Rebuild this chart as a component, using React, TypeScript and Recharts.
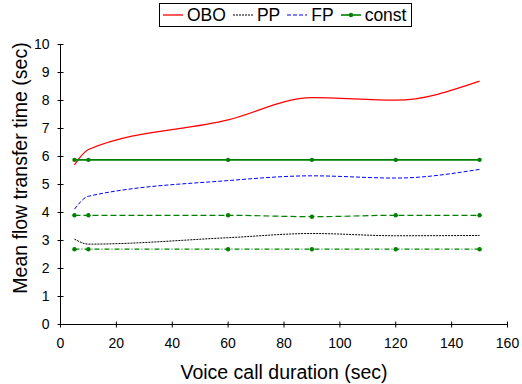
import { LineChart, Line, XAxis, YAxis, Legend } from 'recharts';

// Voice call duration (sec) at which each scheme was measured
const durations = [5, 10, 60, 90, 120, 150];

// Mean flow transfer time (sec) per scheme
const oboTimes = [5.7, 6.25, 7.31, 8.1, 8.01, 8.69];
const ppTimes = [3.05, 2.87, 3.1, 3.25, 3.17, 3.18];
const fpTimes = [4.12, 4.58, 5.14, 5.31, 5.23, 5.54];

// constant-rate reference curves
const constHigh = [5.88, 5.88, 5.88, 5.88, 5.88, 5.88];
const constMid = [3.9, 3.9, 3.9, 3.85, 3.9, 3.9];
const constLow = [2.69, 2.69, 2.69, 2.69, 2.69, 2.69];

const xTicks = [0, 20, 40, 60, 80, 100, 120, 140, 160];
const yTicks = [0, 1, 2, 3, 4, 5, 6, 7, 8, 9, 10];
const legendOrder = ['OBO', 'PP', 'FP', 'const'];

const chartData = durations.map((duration, i) => ({
  duration,
  obo: oboTimes[i],
  pp: ppTimes[i],
  fp: fpTimes[i],
  constHigh: constHigh[i],
  constMid: constMid[i],
  constLow: constLow[i],
}));

const FONT = '"Liberation Sans", Arial, Helvetica, sans-serif';
const TICK_SIZE = 3;
const Y_TICK_MARGIN = 8;
const X_TICK_MARGIN = 11;

// Ticks cross the axis line, so draw the tick mark ourselves
function YTick({ x, y, payload }: any) {
  const axisX = x + TICK_SIZE + Y_TICK_MARGIN;
  return (
    <g>
      <line x1={axisX - TICK_SIZE} x2={axisX + TICK_SIZE} y1={y} y2={y} stroke="#000" />
      <text x={x} y={y} dy="0.355em" textAnchor="end" fontSize={14} fontFamily={FONT} fill="#000">
        {payload.value}
      </text>
    </g>
  );
}

function XTick({ x, y, payload }: any) {
  const axisY = y - TICK_SIZE - X_TICK_MARGIN;
  return (
    <g>
      <line x1={x} x2={x} y1={axisY - TICK_SIZE} y2={axisY + TICK_SIZE} stroke="#000" />
      <text x={x} y={y} dy="0.71em" textAnchor="middle" fontSize={14} fontFamily={FONT} fill="#000">
        {payload.value}
      </text>
    </g>
  );
}

function LegendBox({ payload }: any) {
  // only the named series go in the legend, in plotting order
  const entries = legendOrder
    .map((name) => (payload || []).find((e: any) => e.value === name))
    .filter(Boolean);
  return (
    <div
      style={{
        display: 'flex',
        alignItems: 'center',
        border: '1px solid #000',
        background: '#fff',
        padding: '0 3px 0 3px',
        height: 22,
        fontFamily: FONT,
        fontSize: 17.5,
        color: '#000',
      }}
    >
      {entries.map((entry: any, i: number) => {
        const props = entry.payload || {};
        return (
          <div
            key={entry.value}
            style={{ display: 'flex', alignItems: 'center', marginRight: i === entries.length - 1 ? 2 : 7 }}
          >
            <svg width={20} height={10} style={{ marginRight: 4 }}>
              <line
                x1={0}
                x2={20}
                y1={5}
                y2={5}
                stroke={entry.color}
                strokeWidth={props.strokeWidth || 1}
                strokeDasharray={props.strokeDasharray}
              />
              {props.dot ? <circle cx={10} cy={5} r={2.2} fill={entry.color} /> : null}
            </svg>
            <span style={{ lineHeight: '20px' }}>{entry.value}</span>
          </div>
        );
      })}
    </div>
  );
}

const constDot = { r: 2.2, fill: '#008000', stroke: 'none' };

export default function App() {
  return (
    <div style={{ position: 'absolute', left: 0, top: 0, background: '#fff' }}>
      <LineChart
        width={522}
        height={384}
        data={chartData}
        margin={{ top: 44.5, right: 14.5, bottom: 29.5, left: 0 }}
      >
        <XAxis
          xAxisId="main"
          dataKey="duration"
          type="number"
          domain={[0, 160]}
          ticks={xTicks}
          height={30}
          stroke="#000"
          tickLine={false}
          tickSize={TICK_SIZE}
          tickMargin={X_TICK_MARGIN}
          tick={<XTick />}
          label={{
            content: ({ viewBox }: any) => (
              <text
                x={viewBox.x + viewBox.width / 2}
                y={viewBox.y + 54}
                textAnchor="middle"
                fontSize={19.5}
                fontFamily={FONT}
                fill="#000"
              >
                Voice call duration (sec)
              </text>
            ),
          }}
        />
        <XAxis
          xAxisId="frame"
          orientation="top"
          dataKey="duration"
          type="number"
          domain={[0, 160]}
          height={0}
          tick={false}
          tickLine={false}
          stroke="#808080"
        />
        <YAxis
          yAxisId="main"
          type="number"
          domain={[0, 10]}
          ticks={yTicks}
          width={60.5}
          stroke="#000"
          tickLine={false}
          tickSize={TICK_SIZE}
          tickMargin={Y_TICK_MARGIN}
          tick={<YTick />}
          label={{
            content: () => {
              const cx = 27;
              const cy = 168;
              return (
                <text
                  x={cx}
                  y={cy}
                  transform={`rotate(-90, ${cx}, ${cy})`}
                  textAnchor="middle"
                  fontSize={19.5}
                  fontFamily={FONT}
                  fill="#000"
                >
                  Mean flow transfer time (sec)
                </text>
              );
            },
          }}
        />
        <YAxis
          yAxisId="frame"
          orientation="right"
          type="number"
          domain={[0, 10]}
          width={0}
          tick={false}
          tickLine={false}
          stroke="#a8a8a8"
          strokeWidth={2}
        />
        <Legend
          verticalAlign="middle"
          align="center"
          layout="horizontal"
          wrapperStyle={{ top: 3, left: 159, width: 'auto', height: 'auto' }}
          content={<LegendBox />}
        />
        <Line
          xAxisId="main"
          yAxisId="main"
          dataKey="obo"
          name="OBO"
          type="monotone"
          stroke="#ff0000"
          strokeWidth={1.3}
          dot={false}
          isAnimationActive={false}
        />
        <Line
          xAxisId="main"
          yAxisId="main"
          dataKey="pp"
          name="PP"
          type="monotone"
          stroke="#000000"
          strokeWidth={1}
          strokeDasharray="2 1"
          dot={false}
          isAnimationActive={false}
        />
        <Line
          xAxisId="main"
          yAxisId="main"
          dataKey="fp"
          name="FP"
          type="monotone"
          stroke="#0000ff"
          strokeWidth={1}
          strokeDasharray="4 2"
          dot={false}
          isAnimationActive={false}
        />
        <Line
          xAxisId="main"
          yAxisId="main"
          dataKey="constHigh"
          name="const"
          type="monotone"
          stroke="#008000"
          strokeWidth={1.6}
          dot={constDot}
          isAnimationActive={false}
        />
        <Line
          xAxisId="main"
          yAxisId="main"
          dataKey="constMid"
          name="const mid"
          legendType="none"
          type="monotone"
          stroke="#008000"
          strokeWidth={1.2}
          strokeDasharray="6 3"
          dot={constDot}
          isAnimationActive={false}
        />
        <Line
          xAxisId="main"
          yAxisId="main"
          dataKey="constLow"
          name="const low"
          legendType="none"
          type="monotone"
          stroke="#008000"
          strokeWidth={1.2}
          strokeDasharray="5 2 1 2"
          dot={constDot}
          isAnimationActive={false}
        />
      </LineChart>
    </div>
  );
}
